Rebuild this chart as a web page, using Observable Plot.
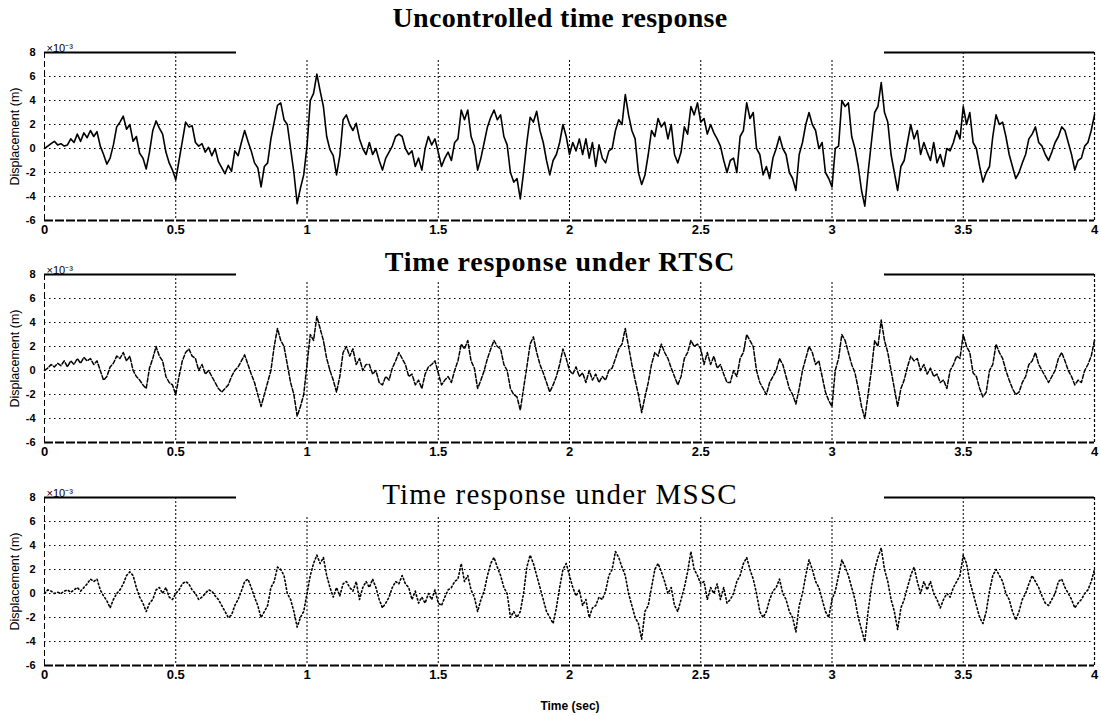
<!DOCTYPE html>
<html>
<head>
<meta charset="utf-8">
<script src="https://cdn.jsdelivr.net/npm/d3@7"></script>
<script src="https://cdn.jsdelivr.net/npm/@observablehq/plot@0.6"></script>
<style>
  html, body { margin: 0; padding: 0; background: white; }
  #chart { position: relative; width: 1101px; height: 716px; background: white; overflow: hidden; }
  .panel { position: absolute; left: 0; }
  .title { position: absolute; left: 236px; width: 648px; text-align: center; background: white;
           font-family: "Liberation Serif", "DejaVu Serif", serif; font-size: 28px; color: #000; white-space: nowrap; }
  .xlabel { position: absolute; left: 0; width: 1140px; text-align: center; top: 699px;
            font-family: "Liberation Sans", Arial, sans-serif; font-size: 12px; font-weight: bold; }
</style>
</head>
<body>
<div id="chart"></div>
<script>
// ---- data (displacement in units of 1e-3 m, sampled every 0.0125 s from 0 to 4 s) ----
const timeStep = 0.0125;
const xTicks = [0, 0.5, 1, 1.5, 2, 2.5, 3, 3.5, 4];
const yTicks = [-6, -4, -2, 0, 2, 4, 6, 8];
const xGrid = [0.5, 1, 1.5, 2, 2.5, 3, 3.5];
const yGrid = [-4, -2, 0, 2, 4, 6];
const xDomain = [0, 4];
const yDomain = [-6, 8];
const titles = ["Uncontrolled time response", "Time response under RTSC", "Time response under MSSC"];

const uncontrolled = [
 0, 0.2, 0.4, 0.6, 0.3, 0.4, 0.2, 0.3, 0.8, 0.5,
 1.2, 0.6, 1.3, 0.9, 1.5, 1.0, 1.4, 0.2, -0.5, -1.3,
 -0.8, 0.3, 1.8, 2.2, 2.7, 1.6, 2.0, 0.6, 1.0, -0.4,
 -0.8, -1.7, -0.3, 1.5, 2.3, 1.7, 1.2, -0.3, -1.2, -1.8,
 -2.6, -1.0, 0.6, 2.2, 1.8, 1.9, 0.5, 0.2, 0.4, -0.3,
 0.1, -0.6, 0.0, -1.1, -1.6, -2.1, -1.4, -1.9, -0.2, -0.6,
 0.5, 1.5, 0.6, -0.2, -1.2, -1.6, -3.2, -1.5, -1.2, 0.8,
 2.2, 3.6, 3.8, 2.4, 2.0, 0.0, -2.0, -4.6, -3.3, -2.2,
 0.2, 4.0, 4.6, 6.2, 4.8, 3.5, 1.0, -0.1, -0.6, -2.2,
 -0.6, 2.4, 2.8, 2.0, 1.5, 2.1, 0.8, 0.0, -0.5,
 0.5, -0.5, 0.0, -1.0, -1.8, -0.8, -0.3, 0.2, 1.0, 1.2, 1.0,
 0.0, -0.5, -0.2, -1.5, -0.8, -1.8, 0.0, 1.0, 0.3, 0.8,
 -0.3, -1.5, -0.8, -0.3, -1.0, 0.5, 0.8, 3.2, 2.4, 3.2,
 1.0, 0.2, -1.8, -0.8, 0.5, 1.8, 2.6, 3.2, 2.4, 2.8,
 1.0, 0.3, -2.0, -2.8, -2.5, -4.2, -2.0, 0.5, 2.6, 2.2,
 3.1, 1.5, 0.5, -1.0, -2.2, -1.0, -0.5, 0.5, 2.0, 1.0,
 -0.5, 0.5, -0.2, 0.8, -0.5, 0.8, -0.8, 0.5, -1.5, 0.3,
 -0.8, -1.2, -0.2, 0.0, 1.5, 2.4, 2.0, 4.5, 2.8, 1.5,
 0.8, -2.0, -3.0, -2.2, -0.5, 1.5, 1.0, 2.5, 1.8, 2.2,
 0.8, 2.0, -0.5, -1.2, -0.3, 1.8, 1.2, 3.5, 2.8, 3.8,
 2.2, 2.5, 1.2, 2.0, 1.3, 0.8, 0.2, -1.0, -2.0,
 -1.0, -0.8, -2.0, 1.0, 1.5, 3.8, 2.5, 3.0, 0.0, -0.5, -2.2,
 -1.5, -2.5, -0.8, 0.0, 1.0, 0.0, -0.5, -2.0, -2.5, -3.5,
 -0.5, 0.5, 2.0, 3.0, 2.0, 1.5, 0.0, 0.5, -2.0, -2.5,
 -3.2, 0.0, 0.2, 4.0, 3.5, 3.8, 1.0, 0.0, -1.5, -3.5,
 -4.8, -2.0, 0.5, 3.0, 3.5, 5.5, 3.0, 2.2, -0.5, -2.0,
 -3.5, -1.5, -1.0, 0.5, 2.0, 0.8, 1.5, -0.5, 0.5, -0.3,
 -1.0, 0.5, -1.2, -0.5, -1.5, 0.0, -0.2, 0.5, 1.5, 0.8,
 3.5, 2.0, 3.0, 0.5, 0.0, -1.5, -2.8, -2.0, -1.5, 1.0,
 2.8, 2.0, 2.2, 1.0, -0.5, -1.5, -2.5, -2.0, -1.2, -0.5,
 0.8, 1.2, 1.8, 0.5, 0.2, -0.5, -1.0, -0.3, 0.5, 1.0,
 1.8, 1.5, 0.5, -0.5, -1.8, -1.0, -0.8, 0.2, 0.5, 1.5, 2.8
];

const rtsc = [
 0, 0.2, 0.5, 0.3, 0.6, 0.4, 0.8, 0.3, 0.8, 0.5,
 1.0, 0.6, 1.1, 0.8, 1.0, 0.5, 0.8, 0.0, -0.8, -0.5,
 0.3, 0.6, 1.2, 1.0, 1.5, 0.8, 1.2, 0.0, -0.5, -0.8,
 -1.2, -1.5, 0.2, 1.0, 2.0, 1.2, 0.8, -0.5, -1.0, -1.2,
 -2.0, -0.5, 0.8, 1.5, 1.8, 1.2, 1.0, 0.0, 0.5, -0.3,
 0.0, -0.5, -1.0, -1.5, -1.8, -1.5, -1.2, -0.5, 0.0, 0.3,
 0.8, 1.3, 0.5, -0.3, -1.0, -2.0, -3.0, -2.0, -1.0, 0.0,
 2.0, 3.5, 2.5, 2.0, 0.5, -1.0, -2.0, -3.8, -3.0, -2.0,
 0.5, 3.0, 2.5, 4.5, 3.5, 2.5, 1.0, 0.0, -0.8, -1.8,
 -0.5, 1.5, 2.0, 1.2, 1.8, 0.5, 1.0, 0.0, 0.5,
 0.5, -0.3, 0.0, -1.0, -1.2, -0.5, -0.8, 0.2, 0.8, 1.5, 1.0,
 0.5, -0.5, -0.3, -1.2, -0.8, -1.5, -0.3, 0.3, 0.5, 0.8,
 -0.2, -1.2, -0.8, -0.5, -1.0, 0.0, 0.8, 2.2, 1.8, 2.5,
 0.8, 0.2, -1.5, -0.8, 0.0, 1.0, 1.8, 2.5, 2.0, 1.8,
 0.5, 0.0, -1.5, -2.0, -2.2, -3.3, -1.5, 0.3, 2.2, 2.8,
 1.5, 0.5, -0.2, -1.0, -1.8, -1.2, -0.5, 0.5, 1.8, 1.0,
 0.0, -0.3, 0.3, -0.5, -0.2, -1.0, 0.0, -0.8, -0.3, -1.0,
 -0.5, -0.8, 0.0, 0.2, 1.0, 1.8, 2.2, 3.5, 2.0, 0.5,
 -0.8, -2.0, -3.5, -2.2, -1.0, 0.5, 1.5, 1.2, 2.2, 1.5,
 1.0, 0.2, -0.5, -1.2, -0.5, 1.0, 1.5, 2.5, 2.0, 2.2,
 1.8, 0.5, 1.5, 0.5, 1.2, 0.2, 0.5, -0.3, -1.0,
 -1.0, 0.0, -0.5, 1.0, 1.5, 3.0, 2.5, 2.0, 0.0, -1.0, -1.5,
 -2.0, -1.0, -0.5, 0.0, 1.0, 0.5, -0.5, -1.5, -2.0, -2.8,
 -1.5, 0.0, 1.0, 2.0, 1.5, 0.5, 0.8, -0.5, -1.8, -2.5,
 -3.0, 0.0, 1.0, 3.0, 2.5, 1.5, 0.5, -0.2, -1.5, -3.0,
 -4.0, -2.0, 0.0, 2.5, 2.0, 4.2, 2.5, 1.5, 0.0, -1.5,
 -3.0, -1.5, -0.8, 0.3, 1.2, 0.8, 1.0, 0.0, 0.5, -0.3,
 0.2, -0.5, -0.3, -1.0, -0.8, -1.5, 0.0, 0.5, 1.2, 1.0,
 3.0, 2.0, 1.5, -0.2, -0.5, -1.5, -2.2, -1.8, 0.0, 0.5,
 2.2, 1.5, 1.0, 0.0, -0.8, -1.5, -2.0, -1.8, -1.0, -0.5,
 0.5, 0.8, 1.5, 0.5, 0.0, -0.5, -1.0, -0.5, 0.0, 1.0,
 1.5, 0.8, 0.0, -0.5, -1.2, -0.8, -1.0, 0.0, 0.5, 1.2, 2.5
];

const mssc = [
 0, 0.3, 0.2, 0.0, 0.1, 0.0, 0.2, 0.3, 0.1, 0.3,
 0.5, 0.2, 0.5, 0.8, 1.2, 1.0, 1.2, 0.3, -0.2, -0.6,
 -1.2, -0.5, 0.0, 0.3, 0.8, 1.5, 1.8, 1.5, 0.5, -0.3,
 -0.8, -1.5, -0.8, -0.5, 0.3, 0.5, 0.0, 0.5, -0.3, -0.5,
 0.0, 0.3, 0.8, 1.0, 0.8, 0.3, 0.0, -0.5, -0.3, 0.0,
 0.3, 0.2, -0.2, -0.5, -1.0, -1.5, -2.0, -1.8, -1.0, -0.5,
 0.2, 1.0, 1.2, 0.5, -0.3, -1.0, -2.0, -1.5, -1.0, 0.5,
 1.0, 2.2, 2.0, 1.5, 0.0, -0.5, -1.5, -2.8, -2.0, -1.5,
 0.0, 1.5, 2.5, 3.2, 2.5, 3.0, 1.5, 0.5, -0.3, 0.5,
 -0.2, 0.8, 1.0, 0.5, 0.2, 1.0, -0.5, 0.5, 1.0,
 0.5, 1.2, 0.5, -0.5, -1.2, -0.8, -0.3, 0.5, 1.0, 0.8, 1.5,
 0.8, 0.5, -0.5, 0.2, -0.8, -0.3, -0.8, 0.0, -0.5, 0.3,
 -0.8, -1.0, -0.3, 0.3, 0.5, 1.0, 1.2, 2.5, 1.0, 1.5,
 0.3, -0.3, -1.5, -0.5, 0.2, 1.5, 2.5, 3.0, 2.2, 1.5,
 0.5, 0.0, -2.0, -1.5, -2.0, -1.5, 0.0, 2.2, 3.2, 2.5,
 1.5, 0.5, -0.5, -1.5, -2.0, -2.5, -1.2, 0.5, 2.0, 2.5,
 1.5, 0.5, -0.2, 0.3, -1.0, -0.5, -2.0, -1.2, -1.0, -0.3,
 -0.5, 0.2, 1.5, 2.0, 3.5, 3.0, 2.2, 1.5, 0.0, -1.0,
 -2.0, -2.5, -3.8, -1.5, -1.0, 0.5, 2.0, 2.5, 1.8, 1.0,
 0.0, 0.5, -1.0, -1.5, -0.5, 0.5, 1.8, 3.5, 2.0, 1.5,
 0.8, 1.0, -0.5, 0.5, 0.0, 0.8, -0.5, 0.5, -0.8,
 -0.5, 0.0, 1.0, 1.5, 2.5, 3.0, 2.0, 1.2, 0.0, -1.5, -2.0,
 -1.5, -0.5, 0.2, 0.5, 1.2, 0.0, -0.5, -1.5, -2.0, -3.2,
 -1.0, 0.0, 1.5, 2.8, 2.0, 1.0, 0.5, -0.5, -1.5, -2.0,
 -0.5, 0.2, 1.5, 2.8, 2.2, 1.5, 0.5, -0.5, -2.0, -3.0,
 -4.0, -1.5, 0.5, 2.0, 3.0, 3.8, 2.0, 1.0, -0.5, -1.5,
 -3.0, -1.2, -0.5, 0.5, 1.5, 2.2, 1.0, 0.0, 1.0, 0.3,
 1.0, 0.0, -0.5, -1.2, -0.5, 0.0, -0.3, 0.5, 1.0, 1.5,
 3.2, 2.5, 1.0, 0.0, -1.0, -2.0, -2.5, -1.5, 0.2, 1.5,
 2.0, 1.5, 1.0, 0.0, -0.5, -1.5, -2.2, -1.5, -0.5, 0.0,
 0.8, 1.5, 1.0, 0.5, -0.2, -0.8, -1.0, -0.5, 0.0, 1.0,
 1.2, 0.5, 0.0, -0.5, -1.2, -0.8, -0.5, 0.0, 0.3, 1.0, 2.0
];

// ---- layout / style ----
const chart = document.getElementById("chart");
const panels = [
  {values: uncontrolled, top: 30, marginTop: 22, marginBottom: 18, dash: null, width: 1.6,
   titleTop: 2, titleH: 56, lineH: 32, bold: true, spacing: "0.3px", size: "28px"},
  {values: rtsc, top: 238, marginTop: 36, marginBottom: 18, dash: "4,2", width: 1.5,
   titleTop: 246, titleH: 36, lineH: 32, bold: true, spacing: "0.8px", size: "28px"},
  {values: mssc, top: 460, marginTop: 37, marginBottom: 22, dash: "1.5,2.5", width: 1.6,
   titleTop: 478, titleH: 38, lineH: 32, bold: false, spacing: "1.2px", size: "29px"}
];
const plotH = 168;

panels.forEach((p, k) => {
  const rows = p.values.map((v, i) => ({t: i * timeStep, v}));
  const svg = Plot.plot({
    width: 1101,
    height: p.marginTop + plotH + p.marginBottom,
    marginLeft: 44,
    marginRight: 7,
    marginTop: p.marginTop,
    marginBottom: p.marginBottom,
    style: {fontFamily: "'Liberation Sans', Arial, sans-serif", background: "transparent", color: "black", overflow: "visible"},
    x: {domain: xDomain},
    y: {domain: yDomain},
    marks: [
      Plot.ruleY(yGrid, {stroke: "black", strokeWidth: 1, strokeDasharray: "1.5,3.5"}),
      Plot.ruleX(xGrid, {stroke: "black", strokeWidth: 1, strokeDasharray: "2,2"}),
      Plot.ruleY([yDomain[1]], {stroke: "black", strokeWidth: 2}),
      Plot.ruleY([yDomain[0]], {stroke: "black", strokeWidth: 2, strokeDasharray: "9,2"}),
      Plot.ruleX([xDomain[0]], {stroke: "black", strokeWidth: 1, strokeDasharray: "6,3"}),
      Plot.ruleX([xDomain[1]], {stroke: "black", strokeWidth: 1.2, strokeDasharray: "3,2"}),
      Plot.line(rows, {x: "t", y: "v", stroke: "black", strokeWidth: p.width, strokeDasharray: p.dash}),
      Plot.axisX({ticks: xTicks, tickFormat: d => String(d), tickSize: 0, tickPadding: 4, fontSize: 13, fontWeight: "bold", label: null}),
      Plot.axisY({ticks: yTicks, tickFormat: d => String(d), tickSize: 0, tickPadding: 9, fontSize: 11, fontWeight: "bold", label: null}),
      Plot.text(["×10⁻³"], {frameAnchor: "top-left", textAnchor: "start", dx: 2, dy: -8, fontSize: 11}),
      Plot.text(["Displacement (m)"], {frameAnchor: "left", textAnchor: "middle", rotate: -90, dx: -30, fontSize: 12.5})
    ]
  });
  svg.classList.add("panel");
  svg.style.top = p.top + "px";
  chart.appendChild(svg);

  const t = document.createElement("div");
  t.className = "title";
  t.textContent = titles[k];
  t.style.top = p.titleTop + "px";
  t.style.height = p.titleH + "px";
  t.style.lineHeight = p.lineH + "px";
  t.style.fontSize = p.size;
  t.style.fontWeight = p.bold ? "bold" : "normal";
  t.style.letterSpacing = p.spacing;
  chart.appendChild(t);
});

const xl = document.createElement("div");
xl.className = "xlabel";
xl.textContent = "Time (sec)";
chart.appendChild(xl);
</script>
</body>
</html>
